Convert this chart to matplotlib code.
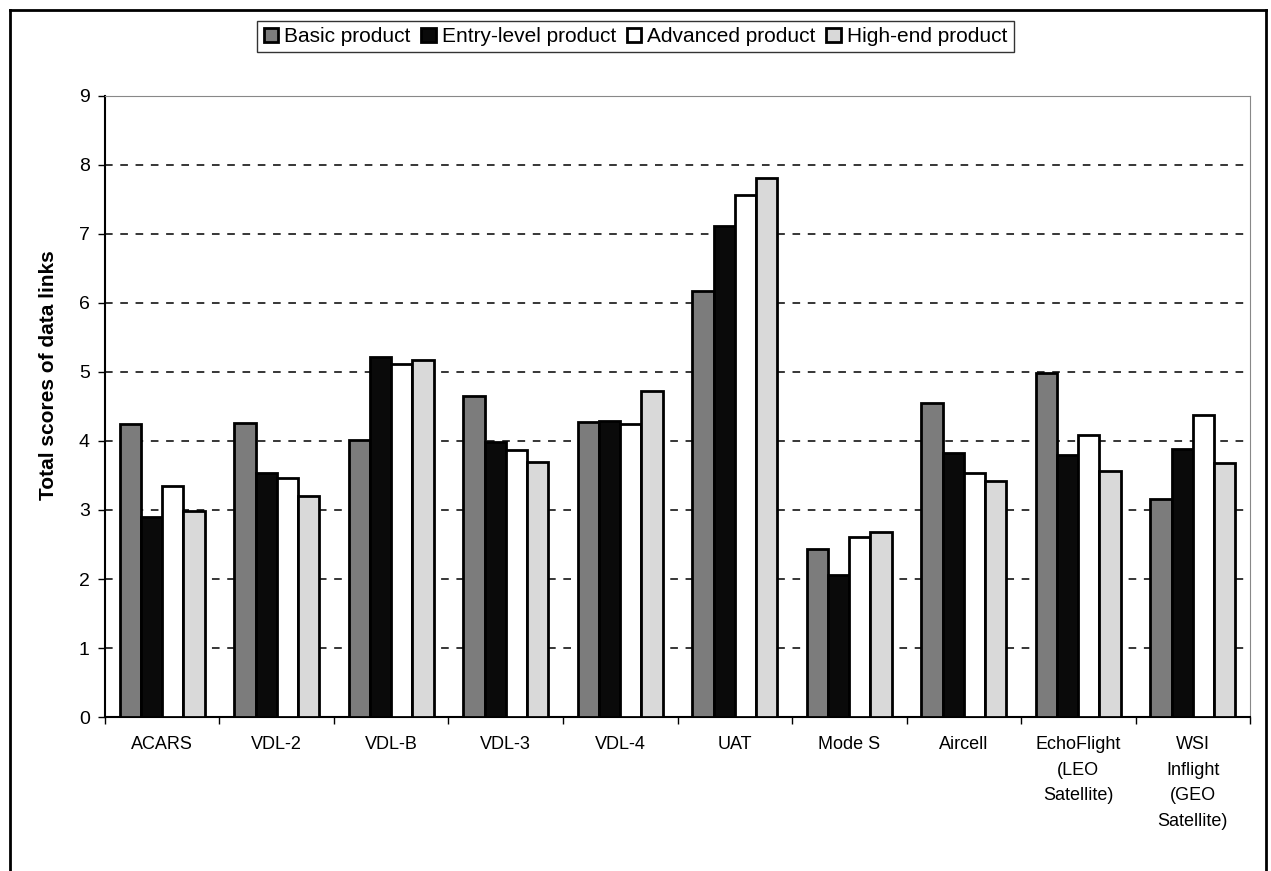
import matplotlib.pyplot as plt
import numpy as np
from matplotlib.lines import Line2D

plt.rcParams['font.family'] = ['Liberation Sans', 'DejaVu Sans']

categories = ['ACARS', 'VDL-2', 'VDL-B', 'VDL-3', 'VDL-4', 'UAT', 'Mode S', 'Aircell',
              'EchoFlight\n(LEO\nSatellite)', 'WSI\nInflight\n(GEO\nSatellite)']
series_names = ['Basic product', 'Entry-level product', 'Advanced product', 'High-end product']
basic = [4.24, 4.26, 4.01, 4.65, 4.27, 6.17, 2.43, 4.55, 4.98, 3.16]
entry = [2.90, 3.53, 5.22, 3.98, 4.29, 7.11, 2.06, 3.83, 3.79, 3.89]
advanced = [3.35, 3.46, 5.12, 3.87, 4.25, 7.56, 2.61, 3.53, 4.08, 4.37]
high_end = [2.98, 3.21, 5.18, 3.70, 4.72, 7.81, 2.68, 3.42, 3.56, 3.68]

values = [basic, entry, advanced, high_end]
colors = ['#7c7c7c', '#0a0a0a', '#ffffff', '#d9d9d9']

fig = plt.figure(figsize=(12.71, 8.71), dpi=100)
ax = fig.add_axes([0.0826, 0.1768, 0.9009, 0.713])

x = np.arange(len(categories))
w = 0.185
for i, (vals, c, name) in enumerate(zip(values, colors, series_names)):
    ax.bar(x + (i - 1.5) * w, vals, w, color=c, edgecolor='black', linewidth=2,
           label=name, zorder=3)

ax.set_xlim(-0.5, len(categories) - 0.5)
ax.set_ylim(0, 9)
ax.set_yticks(range(10))
ax.set_xticks(x)
ax.set_xticklabels(categories, fontsize=13, va='top', linespacing=1.65)
ax.set_xticks(np.arange(-0.5, len(categories), 1), minor=True)
ax.tick_params(axis='x', which='major', length=0, pad=14)
ax.tick_params(axis='x', which='minor', length=5, direction='out', width=1)
ax.tick_params(axis='y', length=5, direction='out', width=1, labelsize=14, pad=6)
ax.set_ylabel('Total scores of data links', fontsize=15, fontweight='bold')
ax.yaxis.set_label_coords(-0.041, 0.55)

for yv in range(1, 9):
    ax.axhline(yv, color='black', linestyle=(0, (5, 5)), linewidth=1.1, zorder=1)

ax.spines['left'].set_linewidth(1.5)
ax.spines['bottom'].set_linewidth(1.5)
ax.spines['top'].set_color('#888888')
ax.spines['top'].set_linewidth(0.8)
ax.spines['right'].set_color('#888888')
ax.spines['right'].set_linewidth(0.8)

leg = fig.legend(loc='upper center', bbox_to_anchor=(0.5, 0.988), ncol=4, fontsize=15,
                 frameon=True, fancybox=False, edgecolor='black', handlelength=0.7,
                 handleheight=0.7, handletextpad=0.3, columnspacing=0.5, borderpad=0.3)
leg.get_frame().set_linewidth(1.0)

# outer border of the figure
fx0, fx1 = 10 / 1271, 1266 / 1271
fy1 = 1 - 10 / 871
fig.add_artist(Line2D([fx0, fx0], [-0.1, fy1], color='black', linewidth=2, transform=fig.transFigure))
fig.add_artist(Line2D([fx0, fx1], [fy1, fy1], color='black', linewidth=2, transform=fig.transFigure))
fig.add_artist(Line2D([fx1, fx1], [fy1, -0.1], color='black', linewidth=2, transform=fig.transFigure))

fig.savefig('out.png', dpi=100)
